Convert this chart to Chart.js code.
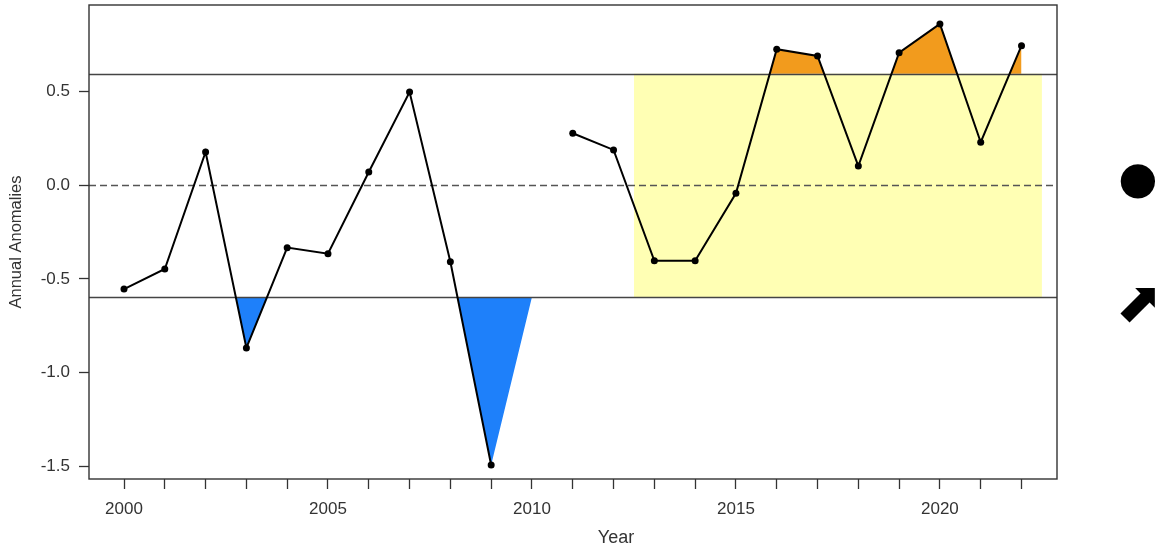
<!DOCTYPE html>
<html>
<head>
<meta charset="utf-8">
<script src="https://cdn.jsdelivr.net/npm/chart.js@4/dist/chart.umd.min.js"></script>
<style>
  html, body { margin: 0; padding: 0; background: #ffffff; }
  #wrap { position: relative; width: 1159px; height: 550px; }
  #c { position: absolute; left: 0; top: 0; }
  .sym { position: absolute; font-family: "DejaVu Sans", sans-serif; color: #000; line-height: 1; transform: translate(-50%, -50%); white-space: nowrap; }
  #xtitle { position: absolute; font-family: "Liberation Sans", Arial, sans-serif; font-size: 18px; color: #333; transform: translate(-50%, -50%); }
</style>
</head>
<body>
<div id="wrap">
  <canvas id="c" width="1159" height="550"></canvas>
  <div id="xtitle" style="left:616px; top:537px;">Year</div>
  <div class="sym" style="left:1138px; top:177px; font-size:45px;">●</div>
  <div class="sym" style="left:1139px; top:302px; font-size:56px;">⬈</div>
</div>
<script>
// ---- data ----
const years = [2000, 2001, 2002, 2003, 2004, 2005, 2006, 2007, 2008, 2009, 2010,
               2011, 2012, 2013, 2014, 2015, 2016, 2017, 2018, 2019, 2020, 2021, 2022];
const anomalies = [-0.554, -0.447, 0.177, -0.868, -0.333, -0.365, 0.070, 0.497, -0.408, -1.492, null,
                   0.277, 0.188, -0.403, -0.403, -0.043, 0.725, 0.689, 0.102, 0.707, 0.860, 0.229, 0.744];
const upperThreshold = 0.595;
const lowerThreshold = -0.596;
const shadeStartYear = 2012.5;
const shadeEndYear = 2022.5;
const yTickValues = [-1.5, -1.0, -0.5, 0.0, 0.5];
const xTickLabels = [2000, 2005, 2010, 2015, 2020];
const xRange = [1999.142, 2022.87];
const yRange = [-1.567, 0.961];

// ---- derived series ----
function clippedSeries(thr, above) {
  const pts = [];
  for (let i = 0; i < years.length; i++) {
    const v = anomalies[i] === null ? thr : anomalies[i];
    pts.push({ x: years[i], y: above ? Math.max(v, thr) : Math.min(v, thr) });
    if (i < years.length - 1) {
      const v2 = anomalies[i + 1] === null ? thr : anomalies[i + 1];
      if ((v - thr) * (v2 - thr) < 0) {
        const xc = years[i] + (thr - v) / (v2 - v) * (years[i + 1] - years[i]);
        pts.push({ x: xc, y: thr });
      }
    }
  }
  return pts;
}
const lineData = years.map((y, i) => ({ x: y, y: anomalies[i] }));
const aboveData = clippedSeries(upperThreshold, true);
const belowData = clippedSeries(lowerThreshold, false);
const shadeData = [{ x: shadeStartYear, y: upperThreshold }, { x: shadeEndYear, y: upperThreshold }];

const FONT = "'Liberation Sans', Arial, sans-serif";
const TXT = '#333333';

const refLines = {
  id: 'refLines',
  beforeDatasetDraw(chart, args) {
    if (args.index !== 0) return;
    const { ctx, chartArea: a, scales: { y } } = chart;
    ctx.save();
    ctx.beginPath();
    ctx.rect(a.left, a.top, a.right - a.left, a.bottom - a.top);
    ctx.clip();
    ctx.strokeStyle = '#444444';
    ctx.lineWidth = 1.4;
    [upperThreshold, lowerThreshold].forEach(v => {
      const py = Math.round(y.getPixelForValue(v)) + 0.5;
      ctx.beginPath(); ctx.moveTo(a.left, py); ctx.lineTo(a.right, py); ctx.stroke();
    });
    ctx.strokeStyle = '#555555';
    ctx.setLineDash([7, 4]);
    const pz = Math.round(y.getPixelForValue(0)) + 0.5;
    ctx.beginPath(); ctx.moveTo(a.left, pz); ctx.lineTo(a.right, pz); ctx.stroke();
    ctx.restore();
  },
  afterDraw(chart) {
    const { ctx, chartArea: a } = chart;
    ctx.save();
    ctx.strokeStyle = '#333333';
    ctx.lineWidth = 1.4;
    ctx.strokeRect(a.left, a.top, a.right - a.left, a.bottom - a.top);
    ctx.restore();
  }
};

new Chart(document.getElementById('c'), {
  type: 'line',
  data: {
    datasets: [
      { data: lineData, borderColor: '#000000', borderWidth: 2, pointRadius: 3.5,
        pointBackgroundColor: '#000000', pointBorderWidth: 0, spanGaps: false, fill: false, tension: 0 },
      { data: aboveData, borderWidth: 0, pointRadius: 0, backgroundColor: '#F29B1D',
        fill: { value: upperThreshold }, tension: 0 },
      { data: belowData, borderWidth: 0, pointRadius: 0, backgroundColor: '#1E80FA',
        fill: { value: lowerThreshold }, tension: 0 },
      { data: shadeData, borderWidth: 0, pointRadius: 0, backgroundColor: '#FFFFB4',
        fill: { value: lowerThreshold }, tension: 0 }
    ]
  },
  options: {
    responsive: false,
    animation: false,
    devicePixelRatio: 1,
    layout: { padding: { top: 5, right: 102, left: 0, bottom: 0 } },
    plugins: { legend: { display: false }, tooltip: { enabled: false } },
    scales: {
      x: {
        type: 'linear', min: xRange[0], max: xRange[1],
        afterBuildTicks: s => { s.ticks = years.map(v => ({ value: v })); },
        afterFit: s => { s.height = 71; s.paddingLeft = 0; s.paddingRight = 0; },
        grid: { drawOnChartArea: false, drawTicks: true, tickLength: 10, tickColor: '#333333', tickWidth: 1.3 },
        border: { display: false },
        ticks: {
          font: { family: FONT, size: 17 }, color: TXT, padding: 10, maxRotation: 0, autoSkip: false,
          callback: v => xTickLabels.includes(v) ? String(v) : ''
        },
        title: { display: false }
      },
      y: {
        type: 'linear', min: yRange[0], max: yRange[1],
        afterBuildTicks: s => { s.ticks = yTickValues.map(v => ({ value: v })); },
        afterFit: s => { s.width = 89; s.paddingTop = 0; s.paddingBottom = 0; },
        grid: { drawOnChartArea: false, drawTicks: true, tickLength: 10, tickColor: '#333333', tickWidth: 1.3 },
        border: { display: false },
        ticks: {
          font: { family: FONT, size: 17 }, color: TXT, padding: 9,
          callback: v => v.toFixed(1)
        },
        title: { display: true, text: 'Annual Anomalies', font: { family: FONT, size: 16.5 }, color: TXT,
                 padding: { top: 7, bottom: 0 } }
      }
    }
  },
  plugins: [refLines]
});
</script>
</body>
</html>
